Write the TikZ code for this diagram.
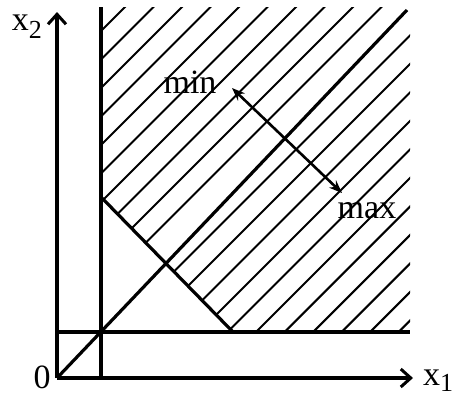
\documentclass[tikz,border=0pt]{standalone}
\usepackage{fontspec}
\setmainfont{Liberation Serif}
\usetikzlibrary{arrows.meta}
\begin{document}
\begin{tikzpicture}[x=1pt,y=-1pt,
  axis/.style={line width=3.4pt,-{Straight Barb[length=10pt,width=18pt,line width=3pt]}},
  bound/.style={line width=3.2pt},
  hatch/.style={line width=2.1pt},
  dir/.style={line width=2.6pt,{Stealth[length=13pt,width=10pt]}-{Stealth[length=13pt,width=10pt]}},
  lab/.style={font=\fontsize{34}{36}\selectfont, inner sep=0pt}]
\useasboundingbox (0,0) rectangle (457,400);
\coordinate (O) at (57,378);
\coordinate (Xend) at (413,378);
\coordinate (Yend) at (57,12);
\coordinate (Vtop) at (101,7);
\coordinate (Vbot) at (101,378);
\coordinate (Hl) at (57,332);
\coordinate (Hr) at (410,332);
\coordinate (Dend) at (407,10);
\coordinate (Aa) at (101,197);
\coordinate (Ab) at (233,332);
\coordinate (Pmin) at (232,88);
\coordinate (Pmax) at (342,193);
% hatching
\begin{scope}
\clip (101,7) -- (410,7) -- (410,332) -- (233,332) -- (101,197) -- cycle;
\foreach \k in {-12,...,-1,1,2,...,12}
  \draw[hatch] ({417+28.5*\k},0) -- ({417+28.5*\k-400},400);
\end{scope}
% boundaries
\draw[bound] (Vtop) -- (Vbot);
\draw[bound] (Hl) -- (Hr);
\draw[bound] (O) -- (Dend);
\draw[bound] (Aa) -- (Ab);
% axes
\draw[axis] (O) -- (Xend);
\draw[axis] (O) -- (Yend);
% direction arrow
\draw[dir] (Pmin) -- (Pmax);
% labels
\node[lab] (zero) at (42,377) {0};
\node[lab, anchor=base] (min) at (190,93) {min};
\node[lab, anchor=base] (max) at (367,218) {max};
\node[lab, anchor=base] (x2) at (27,30) {x\raisebox{-0.25em}{\fontsize{26}{28}\selectfont 2}};
\node[lab, anchor=base] (x1) at (438,385) {x\raisebox{-0.2em}{\fontsize{26}{28}\selectfont 1}};
\end{tikzpicture}
\end{document}
